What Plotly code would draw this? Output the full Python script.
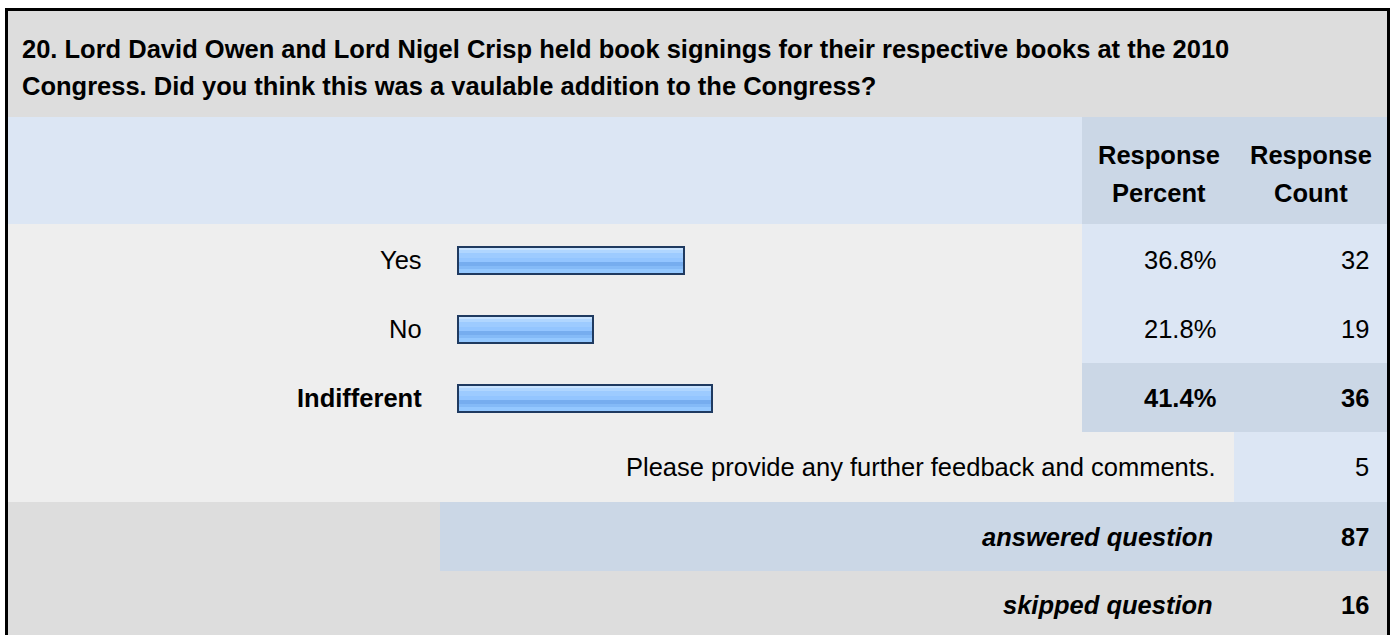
import plotly.graph_objects as go

# survey data
question_line1 = "20. Lord David Owen and Lord Nigel Crisp held book signings for their respective books at the 2010"
question_line2 = "Congress. Did you think this was a vaulable addition to the Congress?"
answers = ["Yes", "No", "Indifferent"]
percents = [36.8, 21.8, 41.4]
counts = [32, 19, 36]
comment_label = "Please provide any further feedback and comments."
comment_count = 5
answered_count = 87
skipped_count = 16

W, H = 1394, 635
FONT = "Arial, 'Liberation Sans', sans-serif"
FS = 25.5

GRAY = "#DDDDDD"
ROWBG = "#EEEEEE"
LIGHTBLUE = "#DCE6F4"
DARKBLUE = "#CBD7E6"
NAVY = "#1F3A60"

# pixel -> paper helpers
def px(x):
    return x / W

def py(y):
    return 1 - y / H

fig = go.Figure()

# bar geometry (pixels) used to set up the axes
zero_px, unit_px = 458.7, 6.1
row_px, row0_px = 69.0, 260.5
bar_h = 29.0
edge = 2.0 / unit_px

# outer navy frame of each bar
fig.add_trace(go.Bar(
    y=answers, x=[p + 2 * edge for p in percents], base=[-edge] * len(percents),
    orientation='h', width=bar_h / row_px, offset=-bar_h / 2 / row_px,
    marker=dict(color=NAVY, line=dict(width=0)),
    hoverinfo='skip', showlegend=False
))

# glossy gradient bands inside the bar (top px, height px, colour)
bands = [
    (2, 2, "#C8E3FF"),
    (4, 3, "#B0D6FF"),
    (7, 5, "#9DCBFF"),
    (12, 4, "#93C5FF"),
    (16, 4, "#76ADEF"),
    (20, 3, "#84BAF7"),
    (23, 4, "#94C8FF"),
]
for top, h, col in bands:
    fig.add_trace(go.Bar(
        y=answers, x=percents, orientation='h',
        width=h / row_px, offset=(top - bar_h / 2) / row_px,
        marker=dict(color=col, line=dict(width=0)),
        hoverinfo='skip', showlegend=False
    ))

# table backgrounds
L, R = 8, 1387
cells = [
    (L, 11, R, 117, GRAY),
    (L, 117, R, 224, LIGHTBLUE),
    (1082, 117, R, 224, DARKBLUE),
    (L, 224, R, 502, ROWBG),
    (1082, 224, R, 363, LIGHTBLUE),
    (1082, 363, R, 432, DARKBLUE),
    (1234, 432, R, 502, LIGHTBLUE),
    (L, 502, R, 640, GRAY),
    (440, 502, R, 571, DARKBLUE),
]
shapes = []
for x0, y0, x1, y1, col in cells:
    shapes.append(dict(type='rect', xref='paper', yref='paper', layer='below',
                       x0=px(x0), x1=px(x1), y0=py(y1), y1=py(y0),
                       fillcolor=col, line=dict(width=0)))
shapes.append(dict(type='rect', xref='paper', yref='paper', layer='above',
                   x0=px(6.5), x1=px(1388.5), y0=py(660), y1=py(9.5),
                   fillcolor='rgba(0,0,0,0)', line=dict(color='#000', width=3)))

annotations = []

def text(s, x, y, anchor='right', bold=False, italic=False):
    if bold:
        s = f"<b>{s}</b>"
    if italic:
        s = f"<i>{s}</i>"
    annotations.append(dict(text=s, x=px(x), y=py(y), xref='paper', yref='paper',
                            xanchor=anchor, yanchor='middle', showarrow=False,
                            font=dict(family=FONT, size=FS, color='#000')))

text(question_line1, 20, 49, 'left', bold=True)
text(question_line2, 20, 86, 'left', bold=True)
text("Response", 1159, 155, 'center', bold=True)
text("Percent", 1159, 193, 'center', bold=True)
text("Response", 1311, 155, 'center', bold=True)
text("Count", 1311, 193, 'center', bold=True)

top_idx = percents.index(max(percents))
for i, (a, p, c) in enumerate(zip(answers, percents, counts)):
    yc = row0_px + i * row_px - 1
    b = i == top_idx
    text(a, 424, yc, bold=b)
    text(f"{p:.1f}%", 1218, yc, bold=b)
    text(str(c), 1371, yc, bold=b)

text(comment_label, 1218, 467)
text(str(comment_count), 1371, 467)
text("answered question", 1215, 537, bold=True, italic=True)
text(str(answered_count), 1371, 537, bold=True)
text("skipped question", 1215, 605, bold=True, italic=True)
text(str(skipped_count), 1371, 605, bold=True)

fig.update_layout(
    width=W, height=H,
    margin=dict(l=0, r=0, t=0, b=0),
    paper_bgcolor='white', plot_bgcolor='rgba(0,0,0,0)',
    barmode='overlay', bargap=0,
    showlegend=False,
    xaxis=dict(visible=False, domain=[0, 1], fixedrange=True,
               range=[-zero_px / unit_px, (W - zero_px) / unit_px]),
    yaxis=dict(visible=False, domain=[0, 1], fixedrange=True,
               type='category', categoryorder='array', categoryarray=answers,
               range=[(len(answers) - 1) + (H - (row0_px + (len(answers) - 1) * row_px)) / row_px,
                      -row0_px / row_px]),
    shapes=shapes,
    annotations=annotations,
)

# drop the default page margin so the figure sits at the window's corner
fig.write_html("out.html", config={'displayModeBar': False},
               post_script="document.body.style.margin='0';")
